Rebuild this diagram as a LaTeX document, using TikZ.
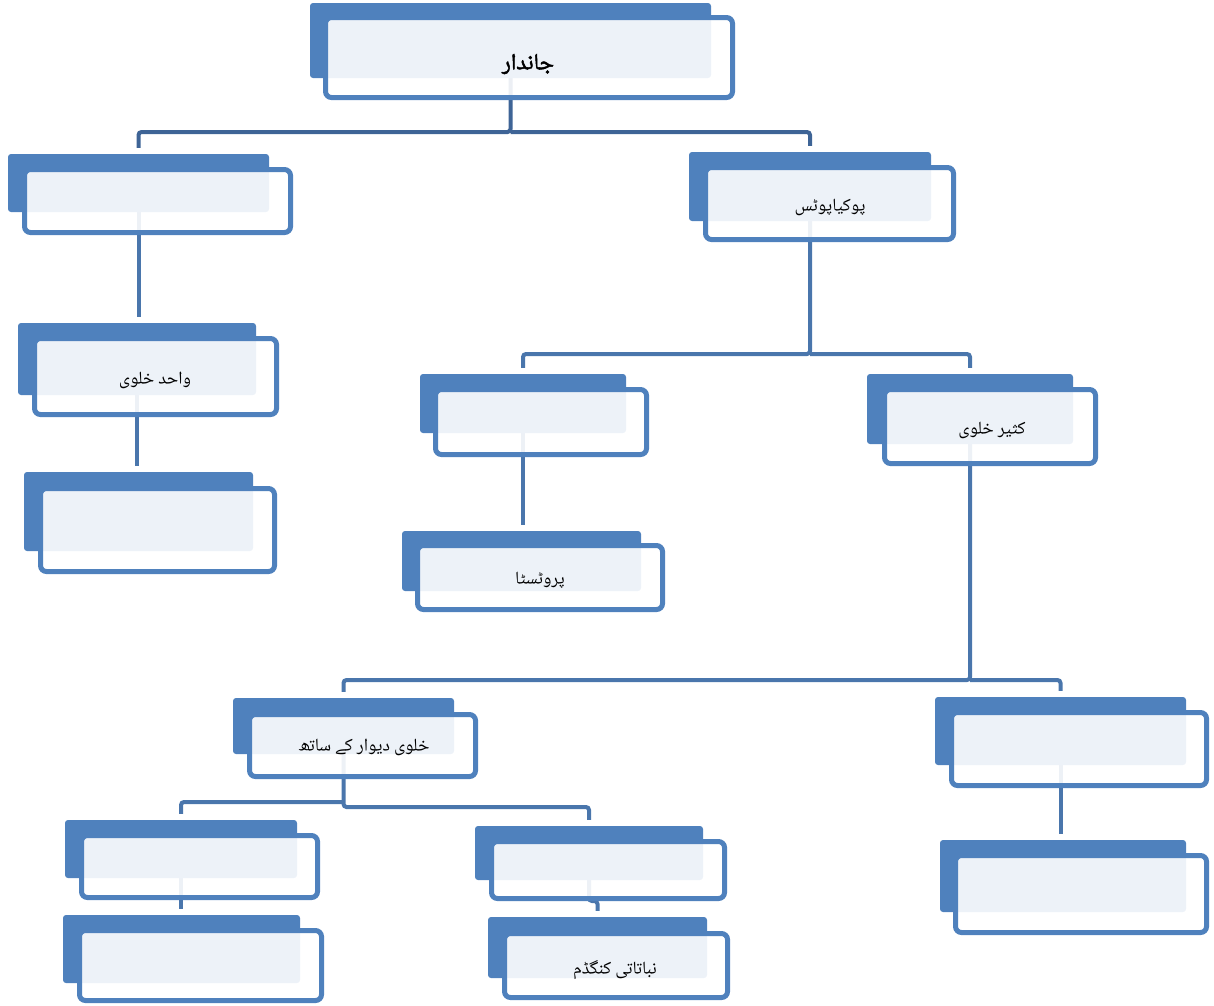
\documentclass[tikz,border=0pt]{standalone}
\usepackage{fontspec}
\newfontfamily\urdu[Script=Arabic]{Noto Naskh Arabic UI}
\newfontfamily\urdubold[Script=Arabic,FakeBold=2]{Noto Naskh Arabic UI}
\TeXXeTstate=1
\usetikzlibrary{fit,calc}
\pgfdeclarelayer{bg}
\pgfsetlayers{bg,main}
\definecolor{boxblue}{RGB}{79,129,189}
\definecolor{connblue}{RGB}{74,118,172}
\definecolor{topconn}{RGB}{62,100,150}
\tikzset{
  backbox/.style={fill=boxblue, draw=none, rounded corners=3pt, inner sep=0pt},
  frontbox/.style={draw=boxblue, line width=5pt, fill=white, fill opacity=0.9,
    draw opacity=1, text opacity=1, rounded corners=6pt, inner sep=0pt},
  lbl/.style={font=\urdu\fontsize{18}{21}\selectfont, text=black, inner sep=0pt},
  toplbl/.style={font=\urdubold\fontsize{23}{27}\selectfont, text=black, inner sep=0pt},
  conn/.style={draw=connblue, line width=4pt, rounded corners=3pt},
}
\newcommand\ubox[9]{%
  \node[backbox, fit={(#2,#3) (#4,#5)}] (b#1) {};
  \node[frontbox, fit={(#6,#7) (#8,#9)}] (f#1) {};
}
\begin{document}
\begin{tikzpicture}[x=1pt,y=-1pt]
\useasboundingbox (0,0) rectangle (1214,1005);
% boxes: back rect, front rect (path, inset by half the border)
\ubox{1}{310}{3}{711}{78}{325.5}{17.5}{732.5}{97.5}
\ubox{2}{8}{154}{269}{212}{24.5}{169.5}{290.5}{232.5}
\ubox{3}{689}{152}{931}{221}{705.5}{167.5}{953.5}{239.5}
\ubox{4}{18}{323}{256}{395}{34.5}{338.5}{276.5}{414.5}
\ubox{5}{24}{472}{253}{551}{40.5}{488.5}{274.5}{571.5}
\ubox{6}{420}{374}{626}{433}{435.5}{389.5}{646.5}{454.5}
\ubox{7}{402}{531}{641}{591}{417.5}{545.5}{662.5}{609.5}
\ubox{8}{867}{374}{1073}{444}{884.5}{389.5}{1095.5}{463.5}
\ubox{9}{233}{698}{454}{754}{249.5}{714.5}{475.5}{776.5}
\ubox{10}{935}{697}{1186}{765}{951.5}{712.5}{1206.5}{785.5}
\ubox{11}{940}{840}{1186}{912}{955.5}{855.5}{1206.5}{932.5}
\ubox{12}{65}{820}{297}{878}{81.5}{835.5}{317.5}{897.5}
\ubox{13}{63}{915}{300}{983}{79.5}{930.5}{321.5}{1000.5}
\ubox{14}{475}{826}{703}{880}{491.5}{841.5}{724.5}{898.5}
\ubox{15}{488}{917}{707}{978}{504.5}{933.5}{727.5}{997.5}
% labels
\node[toplbl] (t1) at (528,64) {\beginR جاندار\endR};
\node[lbl] (t3) at (830,207) {\beginR پوکیاپوٹس\endR};
\node[lbl] (t4) at (155,380) {\beginR واحد خلوی\endR};
\node[lbl] (t7) at (540,580) {\beginR پروٹسٹا\endR};
\node[lbl] (t8) at (992,430) {\beginR کثیر خلوی\endR};
\node[lbl] (t9) at (364,747) {\beginR خلوی دیوار کے ساتھ\endR};
\node[lbl] (t15) at (615,970) {\beginR نباتاتی کنگڈم\endR};
% junction levels
\coordinate (jA) at (0,132);
\coordinate (jB) at (0,354);
\coordinate (jC) at (0,680);
\coordinate (jD) at (0,802);
\coordinate (jE) at (0,807);
\begin{pgfonlayer}{bg}
  \draw[conn, draw=topconn] (b1.center) -- (b1.center |- jA) -| ($(b2.north)+(0,-6)$);
  \draw[conn, draw=topconn] (b1.center |- jA) -| ($(b3.north)+(0,-6)$);
  \draw[conn] (b2.center) -- ($(b2.center |- b4.north)+(0,-6)$);
  \draw[conn] (b4.center) -- ($(b4.center |- b5.north)+(0,-6)$);
  \draw[conn] (b3.center) -- (b3.center |- jB) -| ($(b6.north)+(0,-6)$);
  \draw[conn] (b3.center |- jB) -| ($(b8.north)+(0,-6)$);
  \draw[conn] (b6.center) -- ($(b6.center |- b7.north)+(0,-6)$);
  \draw[conn] (b8.center) -- (b8.center |- jC) -| ($(b9.north)+(0,-6)$);
  \draw[conn] (b8.center |- jC) -| ($(b10.north)+(0,-6)$);
  \draw[conn] (b10.center) -- ($(b10.center |- b11.north)+(0,-6)$);
  \draw[conn] (b9.center) -- (b9.center |- jE) -| ($(b14.north)+(0,-6)$);
  \draw[conn] (b9.center |- jD) -| ($(b12.north)+(0,-6)$);
  \draw[conn] (b12.center) -- ($(b12.center |- b13.north)+(0,-6)$);
  \draw[conn] (b14.center) -- (b14.center |- f14.south) -| ($(b15.north)+(0,-6)$);
\end{pgfonlayer}
\end{tikzpicture}
\end{document}
